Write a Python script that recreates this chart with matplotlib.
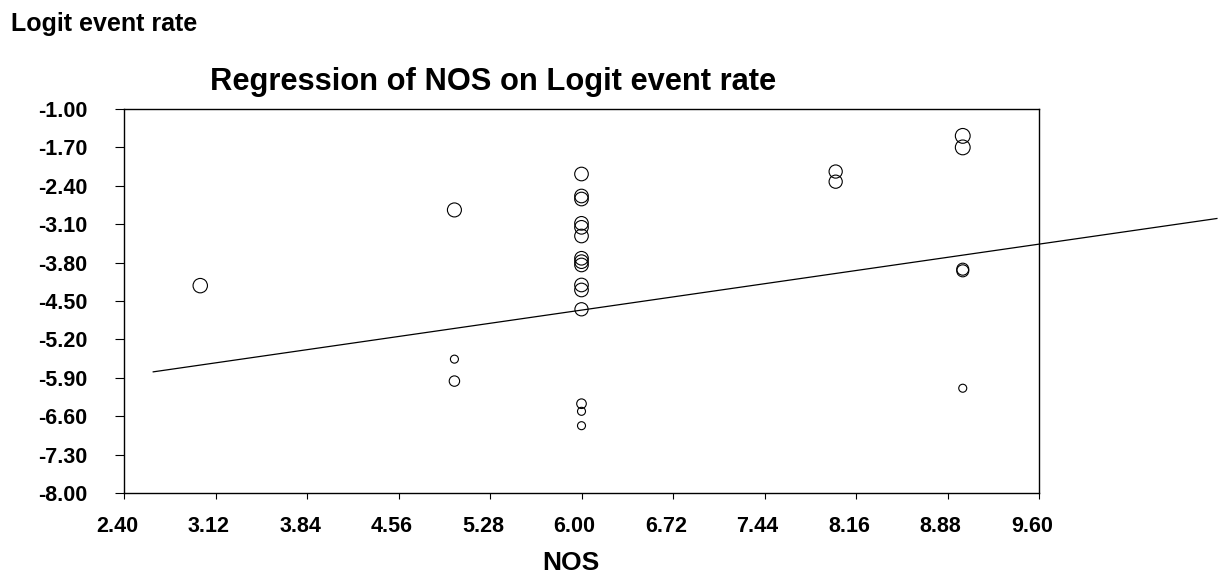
import numpy as np
import matplotlib
matplotlib.use("Agg")
import matplotlib.pyplot as plt
import matplotlib.transforms as mtransforms

plt.rcParams['font.family'] = ['Liberation Sans', 'DejaVu Sans']
plt.rcParams['font.weight'] = 'bold'

# study points: NOS score, logit event rate, relative weight (circle radius in px)
nos = [3, 5, 5, 5,
       6, 6, 6, 6, 6, 6, 6, 6, 6, 6, 6, 6, 6, 6, 6,
       8, 8,
       9, 9, 9, 9, 9]
logit = [-4.22, -2.84, -5.56, -5.96,
         -2.185, -2.586, -2.641, -3.084, -3.157, -3.315, -3.721, -3.783, -3.843,
         -4.208, -4.299, -4.651, -6.372, -6.511, -6.773,
         -2.14, -2.325,
         -1.49, -1.70, -3.92, -3.95, -6.09]
weight = [7.2, 7.0, 4.0, 5.2,
          6.8, 6.8, 6.8, 6.8, 6.8, 6.8, 6.8, 6.8, 6.8, 6.8, 6.8, 6.6, 4.8, 4.0, 4.0,
          6.6, 6.6,
          7.4, 7.4, 6.0, 6.0, 4.0]

# regression line
intercept = -6.67
slope = 0.334
line_x = [2.63, 11.0]

xticks = [2.40, 3.12, 3.84, 4.56, 5.28, 6.00, 6.72, 7.44, 8.16, 8.88, 9.60]
yticks = [-1.00, -1.70, -2.40, -3.10, -3.80, -4.50, -5.20, -5.90, -6.60, -7.30, -8.00]

W, H = 1229, 579
fig = plt.figure(figsize=(W / 100, H / 100), dpi=100)
ax = fig.add_axes([124 / W, (H - 493) / H, (1039 - 124) / W, (493 - 109) / H])

sizes = [(2 * r * 0.72) ** 2 for r in weight]
ax.scatter(nos, logit, s=sizes, facecolors='none', edgecolors='black', linewidths=0.8, zorder=3)

lx = np.array(line_x)
ax.plot(lx, intercept + slope * lx, color='black', lw=0.9, clip_on=False, zorder=2)

ax.set_xlim(2.40, 9.60)
ax.set_ylim(-8.00, -1.00)
ax.set_xticks(xticks)
ax.set_xticklabels(['%.2f' % v for v in xticks])
ax.set_yticks(yticks)
ax.set_yticklabels(['%.2f' % v for v in yticks])
ax.tick_params(axis='y', direction='out', length=6.5, width=0.8, pad=20, labelsize=15.5)
ax.tick_params(axis='x', direction='out', length=4.3, width=0.8, pad=12, labelsize=15.5)
for sp in ax.spines.values():
    sp.set_linewidth(1.0)

shift = mtransforms.ScaledTranslation(-7 / 100, 0, fig.dpi_scale_trans)
for lab in ax.get_xticklabels():
    lab.set_transform(lab.get_transform() + shift)

fig.text(11 / W, 1 - 31 / H, 'Logit event rate', fontsize=18, fontweight='bold', va='baseline', ha='left')
fig.text(493 / W, 1 - 90 / H, 'Regression of NOS on Logit event rate', fontsize=22.2, fontweight='bold',
         va='baseline', ha='center')
fig.text(571 / W, 1 - 563 / H, 'NOS', fontsize=19, fontweight='bold', va='center', ha='center')

fig.savefig('out.png', dpi=100)
